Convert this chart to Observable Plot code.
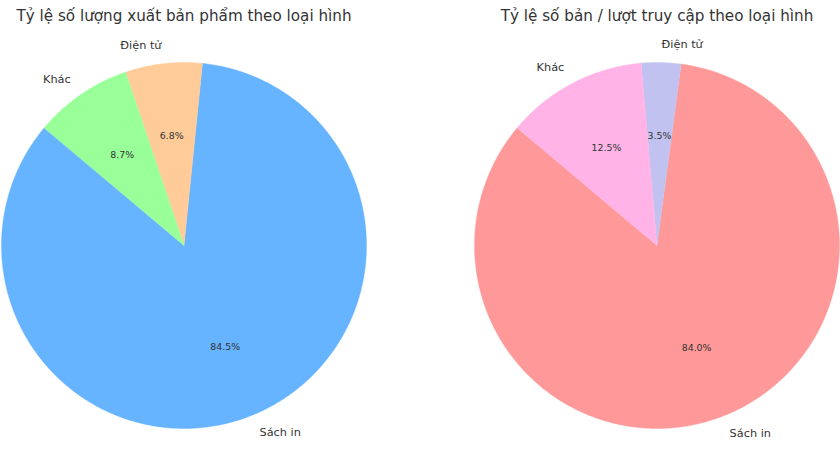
<!DOCTYPE html>
<html>
<head>
<meta charset="utf-8">
<script src="https://cdn.jsdelivr.net/npm/d3@7"></script>
<script src="https://cdn.jsdelivr.net/npm/@observablehq/plot@0.6"></script>
<style>
  html, body { margin: 0; padding: 0; background: #fff; }
  #chart { width: 840px; height: 473px; }
</style>
</head>
<body>
<div id="chart"></div>
<script>
// ---- data ----
const chartTitles = [
  "Tỷ lệ số lượng xuất bản phẩm theo loại hình",
  "Tỷ lệ số bản / lượt truy cập theo loại hình"
];
const categories = ["Sách in", "Điện tử", "Khác"];
const publicationShares = [84.5, 6.8, 8.7];
const accessShares = [84.0, 3.5, 12.5];
const publicationColors = ["#66b3ff", "#ffcc99", "#99ff99"];
const accessColors = ["#ff9999", "#c2c2f0", "#ffb3e6"];
const startAngle = 140; // degrees, counter-clockwise

// ---- build wedge geometry from values ----
const series = [
  {title: chartTitles[0], values: publicationShares, colors: publicationColors},
  {title: chartTitles[1], values: accessShares, colors: accessColors}
];
const wedgePoints = [];
const labels = [];
const colorDomain = [];
const colorRange = [];
for (const s of series) {
  const total = d3.sum(s.values);
  let a = startAngle;
  s.values.forEach((v, i) => {
    const key = s.title + "|" + categories[i];
    colorDomain.push(key);
    colorRange.push(s.colors[i]);
    const span = v / total * 360;
    const a0 = a, a1 = a + span;
    wedgePoints.push({chart: s.title, key, x: 0, y: 0});
    const n = Math.max(2, Math.ceil(span / 0.5));
    for (let k = 0; k <= n; k++) {
      const t = (a0 + (a1 - a0) * k / n) * Math.PI / 180;
      wedgePoints.push({chart: s.title, key, x: Math.cos(t), y: Math.sin(t)});
    }
    const mid = (a0 + a1) / 2 * Math.PI / 180;
    labels.push({
      chart: s.title,
      name: categories[i],
      pct: (v / total * 100).toFixed(1) + "%",
      lx: 1.1 * Math.cos(mid), ly: 1.1 * Math.sin(mid),
      px: 0.6 * Math.cos(mid), py: 0.6 * Math.sin(mid)
    });
    a = a1;
  });
}

const textColor = "#333333";
const plot = Plot.plot({
  width: 840,
  height: 473,
  marginLeft: 0,
  marginRight: 0,
  marginTop: 62,
  marginBottom: 45,
  style: {fontFamily: "DejaVu Sans", background: "#fff", overflow: "visible"},
  fx: {domain: chartTitles, paddingInner: 108 / 474, paddingOuter: 0},
  x: {domain: [-1, 1], axis: null},
  y: {domain: [-1, 1], axis: null},
  color: {domain: colorDomain, range: colorRange},
  marks: [
    Plot.line(wedgePoints, {
      fx: "chart", x: "x", y: "y", z: "key",
      fill: "key", stroke: "key", strokeWidth: 0.4,
      curve: "linear-closed"
    }),
    Plot.text(labels.filter(d => d.lx >= 0), {
      fx: "chart", x: "lx", y: "ly", text: "name",
      textAnchor: "start", fontSize: 11.3, fill: textColor
    }),
    Plot.text(labels.filter(d => d.lx < 0), {
      fx: "chart", x: "lx", y: "ly", text: "name",
      textAnchor: "end", fontSize: 11.3, fill: textColor
    }),
    Plot.text(labels, {
      fx: "chart", x: "px", y: "py", text: "pct",
      fontSize: 9.4, fill: textColor
    }),
    Plot.axisFx({
      anchor: "top", tickSize: 0, tickPadding: 42, label: null,
      fontSize: 15.2, fill: textColor
    })
  ]
});
document.getElementById("chart").appendChild(plot);
</script>
</body>
</html>
